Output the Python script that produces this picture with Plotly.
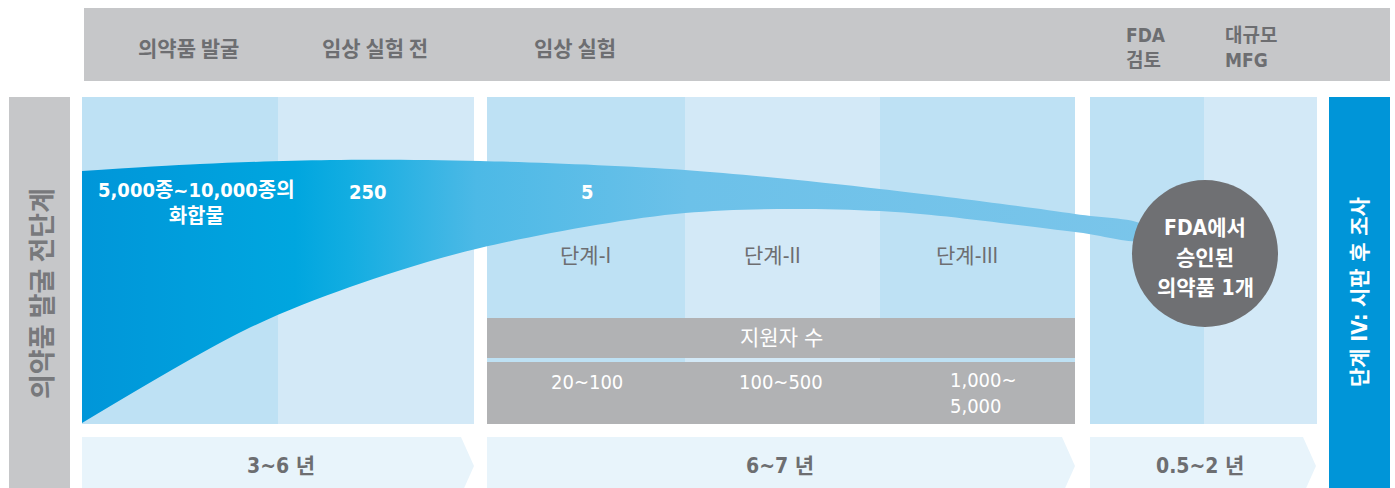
import plotly.graph_objects as go

W, H = 1395, 488

# Stage headings across the top band
top_stages = ["의약품 발굴", "임상 실험 전", "임상 실험"]
top_stage_x = [188, 375, 575]
review_label = "FDA<br>검토"
mfg_label = "대규모<br>MFG"

# Counts carried through the funnel
funnel_counts = ["5,000종~10,000종의<br>화합물", "250", "5"]
funnel_count_x = [196, 368, 587]

# Clinical phases and volunteer counts
phases = ["단계-I", "단계-II", "단계-III"]
phase_x = [585, 772, 967]
volunteer_title = "지원자 수"
volunteers = ["20~100", "100~500", "1,000~<br>5,000"]
volunteer_x = [587, 781, 948]

# Durations along the bottom arrows
durations = ["3~6 년", "6~7 년", "0.5~2 년"]
duration_x = [281, 780, 1200]

side_left = "의약품 발굴 전단계"
side_right = "단계 IV: 시판 후 조사"
approved_lines = ["FDA에서", "승인된", "의약품 1개"]

# Funnel outline: upper edge left->right, lower edge right->left
funnel_top_x = [82, 200, 330, 480, 685, 880, 1075, 1145]
funnel_top_y = [171, 164, 160, 161, 170, 189, 214, 226]
funnel_bot_x = [1145, 1075, 880, 685, 480, 350, 245, 82]
funnel_bot_y = [240, 232, 211, 213, 248, 287, 330, 423]

GREY_BAND = "#C6C7C9"
GREY_BOX = "#B1B2B4"
GREY_TEXT = "#6D6E71"
DARK_PANEL = "#BEE1F4"
LIGHT_PANEL = "#D3E9F7"
ARROW = "#E8F4FB"
BLUE = "#0095D8"

FONT = "DejaVu Sans Condensed, Noto Sans CJK KR, sans-serif"
KFONT = "Noto Sans CJK KR, sans-serif"

fig = go.Figure()

shapes = []

def rect(x0, x1, y0, y1, color, layer="below"):
    shapes.append(dict(type="rect", x0=x0, x1=x1, y0=y0, y1=y1,
                       fillcolor=color, line=dict(width=0), layer=layer))

# top band and side bars
rect(84, 1390, 8, 81, GREY_BAND)
rect(9, 70, 97, 488, GREY_BAND)
rect(1329, 1390, 97, 488, BLUE)

# stage panels
PANEL_Y0, PANEL_Y1 = 97, 424
for x0, x1, c in [(82, 278, DARK_PANEL), (278, 474, LIGHT_PANEL),
                  (487, 685, DARK_PANEL), (685, 880, LIGHT_PANEL), (880, 1075, DARK_PANEL),
                  (1090, 1204, DARK_PANEL), (1204, 1317, LIGHT_PANEL)]:
    rect(x0, x1, PANEL_Y0, PANEL_Y1, c)

# volunteer table
rect(487, 1075, 318, 358, GREY_BOX)
rect(487, 1075, 362, 424, GREY_BOX)

# chevron arrows for durations
for x0, x1 in [(82, 474), (487, 1075), (1090, 1316)]:
    tip = x1 - 13
    shapes.append(dict(type="path",
                       path=f"M {x0},437 L {tip},437 L {x1},466 L {tip},495 L {x0},495 Z",
                       fillcolor=ARROW, line=dict(width=0), layer="below"))

# approved drug circle
shapes.append(dict(type="circle", x0=1132, x1=1278, y0=180, y1=327,
                   fillcolor="#6F7073", line=dict(width=0), layer="above"))

fig.add_trace(go.Scatter(
    x=funnel_top_x + funnel_bot_x,
    y=funnel_top_y + funnel_bot_y,
    mode="lines", line=dict(width=0, shape="spline", smoothing=0.9),
    fill="toself",
    fillgradient=dict(type="horizontal",
                      colorscale=[[0, "#0096D9"], [0.2, "#00A6DF"], [0.25, "#12ADE1"],
                                  [0.37, "#4CB9E6"], [0.57, "#6CC1E9"], [1, "#7AC5EA"]]),
    hoverinfo="skip", showlegend=False))

ann = []

def label(x, y, text, size, color, bold=True, xanchor="center", angle=0, family=FONT):
    ann.append(dict(x=x, y=y, text=text, showarrow=False, xanchor=xanchor, yanchor="middle",
                    textangle=angle, align="left" if xanchor == "left" else "center",
                    font=dict(size=size, color=color, family=family,
                              weight="bold" if bold else "normal")))

for t, x in zip(top_stages, top_stage_x):
    label(x, 47, t, 21, GREY_TEXT, family=KFONT)
label(1124, 47, review_label, 19, GREY_TEXT, xanchor="left")
label(1223, 47, mfg_label, 19, GREY_TEXT, xanchor="left")

label(40, 294, side_left, 27, "#78797C", angle=-90, family=KFONT)
label(1360, 292, side_right, 21, "white", angle=-90)

for t, x in zip(funnel_counts, funnel_count_x):
    yy = 203 if "<br>" in t else 192
    label(x, yy, t, 20, "white")

for t, x in zip(phases, phase_x):
    label(x, 256, t, 21, GREY_TEXT, bold=False)

label(781, 338, volunteer_title, 21, "white", bold=False)
for t, x in zip(volunteers, volunteer_x):
    if "<br>" in t:
        label(x, 393, t, 20, "white", bold=False, xanchor="left")
    else:
        label(x, 382, t, 20, "white", bold=False)

for t, x in zip(durations, duration_x):
    label(x, 466, t, 21, GREY_TEXT)

for i, t in enumerate(approved_lines):
    label(1205, 228 + 30 * i, t, 21, "white")

fig.update_layout(
    width=W, height=H, margin=dict(l=0, r=0, t=0, b=0),
    paper_bgcolor="white", plot_bgcolor="white",
    xaxis=dict(range=[0, W], visible=False, fixedrange=True),
    yaxis=dict(range=[H, 0], visible=False, fixedrange=True),
    shapes=shapes, annotations=ann, showlegend=False,
)

fig.write_html("out.html")
